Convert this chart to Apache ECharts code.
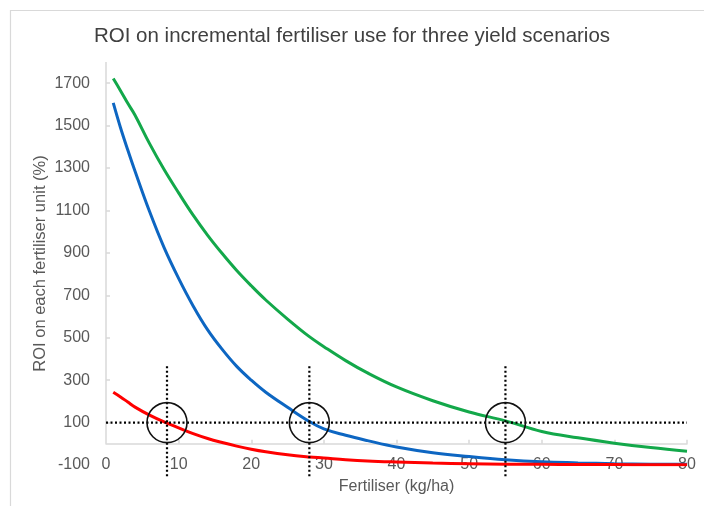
<!DOCTYPE html>
<html>
<head>
<meta charset="utf-8">
<script src="https://cdn.jsdelivr.net/npm/echarts@6/dist/echarts.min.js"></script>
<style>
html,body{margin:0;padding:0;background:#fff;}
#chart{width:704px;height:506px;}
</style>
</head>
<body>
<div id="chart"></div>
<script>
// ---- data ----
const fertiliser = [1, 2, 3, 4, 6, 8, 10, 12, 14, 16, 18, 20, 22, 25, 28, 30, 33, 36, 40, 45, 50, 55, 60, 65, 70, 75, 80];
const roiHigh   = [1722, 1665, 1605, 1549, 1415, 1293, 1183, 1078, 983, 897, 817, 745, 678, 588, 505, 458, 392, 334, 268, 203, 150, 108, 58, 28, 3, -18, -35];
const roiMedium = [1607, 1490, 1385, 1285, 1095, 925, 780, 650, 537, 445, 365, 300, 243, 172, 105, 70, 40, 15, -15, -42, -60, -75, -85, -90, -94, -96, -97];
const roiLow    = [243, 221, 197, 173, 135, 103, 75, 48, 25, 6, -11, -26, -38, -52, -62, -67, -75, -81, -86, -91, -94, -96, -97, -98, -98, -99, -99];
const yTickLabels = [-100, 100, 300, 500, 700, 900, 1100, 1300, 1500, 1700];
const xTickLabels = [0, 10, 20, 30, 40, 50, 60, 70, 80];
const breakEven = 100;
const crossPoints = [8.4, 28, 55];
const markerSpan = [365, -160];

const pairs = vals => fertiliser.map((x, i) => [x, vals[i]]);

const chart = echarts.init(document.getElementById('chart'));
const axisGrey = '#d9d9d9';
const textGrey = '#595959';
const font = 'Liberation Sans, Arial, sans-serif';

chart.setOption({
  animation: false,
  title: {
    text: 'ROI on incremental fertiliser use for three yield scenarios',
    left: 'center', top: 21,
    textStyle: {fontFamily: font, fontSize: 20.5, fontWeight: 'normal', color: '#404040'}
  },
  grid: {left: 106, right: 17, top: 62, bottom: 41},
  xAxis: [{
    type: 'value', min: 0, max: 80, interval: 10, position: 'bottom',
    axisLine: {show: false, onZero: false},
    axisTick: {show: false},
    splitLine: {show: false},
    axisLabel: {customValues: xTickLabels, margin: 0, verticalAlign: 'middle',
      fontFamily: font, fontSize: 16, color: textGrey},
    name: 'Fertiliser (kg/ha)', nameLocation: 'middle', nameGap: 14, nameMoveOverlap: false,
    nameTextStyle: {fontFamily: font, fontSize: 16, color: textGrey}
  }, {
    type: 'value', min: 0, max: 80, interval: 10, position: 'top',
    axisLine: {show: true, onZero: true, lineStyle: {color: axisGrey, width: 1.5}},
    axisTick: {show: true, inside: false, length: 4, customValues: xTickLabels.slice(1), lineStyle: {color: axisGrey, width: 1.5}},
    axisLabel: {show: false},
    splitLine: {show: false}
  }],
  yAxis: {
    type: 'value', min: -100, max: 1800, interval: 200,
    axisLine: {show: false},
    axisTick: {show: true, inside: true, length: 4, customValues: yTickLabels.slice(1), lineStyle: {color: axisGrey, width: 1.5}},
    splitLine: {show: false},
    axisLabel: {customValues: yTickLabels, formatter: v => String(v), margin: 16, fontFamily: font, fontSize: 16, color: textGrey},
    name: 'ROI on each fertiliser unit (%)', nameLocation: 'middle', nameGap: 57, nameMoveOverlap: false,
    nameTextStyle: {fontFamily: font, fontSize: 16.5, color: textGrey}
  },
  series: [
    {type: 'line', data: pairs(roiHigh), smooth: 0.4, symbol: 'none', lineStyle: {color: '#13a84a', width: 3}, itemStyle: {color: '#13a84a'}},
    {type: 'line', data: pairs(roiMedium), smooth: 0.4, symbol: 'none', lineStyle: {color: '#0d66c2', width: 3}, itemStyle: {color: '#0d66c2'}},
    {type: 'line', data: pairs(roiLow), smooth: 0.4, symbol: 'none', lineStyle: {color: '#ff0000', width: 3}, itemStyle: {color: '#ff0000'}}
  ]
});

const finder = {xAxisIndex: 0, yAxisIndex: 0};
const px = (x, y) => chart.convertToPixel(finder, [x, y]);
const dotted = {stroke: '#000', lineWidth: 2.2, lineDash: [2, 2.5]};
const elems = [];
// outer frame
elems.push({type: 'rect', shape: {x: 10.5, y: 10.5, width: 800, height: 600}, style: {fill: 'none', stroke: axisGrey, lineWidth: 1.2}, z: 0});
// y axis line from 0 up to max
const a0 = px(0, 0), a1 = px(0, 1800);
elems.push({type: 'line', shape: {x1: a0[0], y1: a0[1], x2: a1[0], y2: a1[1]}, style: {stroke: axisGrey, lineWidth: 1.5}, z: 1});
// break-even horizontal dotted line
const h0 = px(0, breakEven), h1 = px(80, breakEven);
elems.push({type: 'line', shape: {x1: h0[0], y1: h0[1], x2: h1[0], y2: h1[1]}, style: dotted, z: 50});
crossPoints.forEach(cx => {
  const t = px(cx, markerSpan[0]), b = px(cx, markerSpan[1]), c = px(cx, breakEven);
  elems.push({type: 'line', shape: {x1: t[0], y1: t[1], x2: b[0], y2: b[1]}, style: dotted, z: 50});
  elems.push({type: 'circle', shape: {cx: c[0], cy: c[1], r: 20}, style: {fill: 'none', stroke: '#111', lineWidth: 1.6}, z: 50});
});
chart.setOption({graphic: elems});
</script>
</body>
</html>
